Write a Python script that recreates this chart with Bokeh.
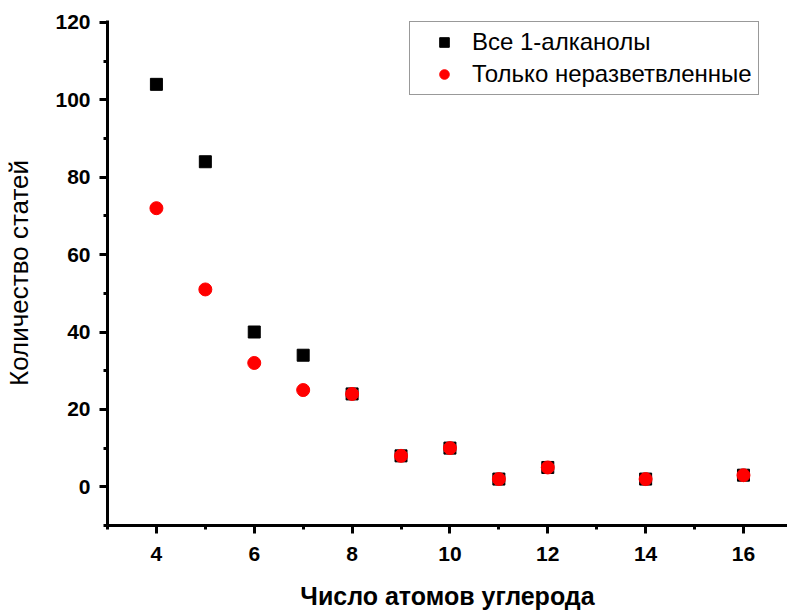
from bokeh.plotting import figure
from bokeh.models import SingleIntervalTicker, Range1d, Legend, LegendItem
from bokeh.embed import file_html
from bokeh.resources import INLINE

# Carbon atom counts and article counts per series
carbons = [4, 5, 6, 7, 8, 9, 10, 11, 12, 14, 16]
all_alkanols = [104, 84, 40, 34, 24, 8, 10, 2, 5, 2, 3]
unbranched = [72, 51, 32, 25, 24, 8, 10, 2, 5, 2, 3]

label_all = "Все 1-алканолы"
label_unbranched = "Только неразветвленные"
x_title = "Число атомов углерода"
y_title = "Количество статей"

FONT = "Liberation Sans"

p = figure(width=787, height=612, output_backend="svg", toolbar_location=None,
           x_range=Range1d(3, 16.9), y_range=Range1d(-10, 120.5),
           min_border_left=107, min_border_right=0, min_border_top=20,
           min_border_bottom=87)
p.outline_line_color = None
p.grid.visible = False
p.background_fill_color = "white"
p.border_fill_color = "white"

r_sq = p.scatter(carbons, all_alkanols, marker="square", size=12,
                 fill_color="black", line_color="black")
r_ci = p.scatter(carbons, unbranched, marker="circle", size=13,
                 fill_color="#ff0000", line_color="#ff0000")

p.xaxis.ticker = SingleIntervalTicker(interval=2, num_minor_ticks=2)
p.yaxis.ticker = SingleIntervalTicker(interval=20, num_minor_ticks=2)

for ax in (p.xaxis[0], p.yaxis[0]):
    ax.axis_line_width = 3
    ax.major_tick_line_width = 3
    ax.minor_tick_line_width = 3
    ax.major_tick_out = 8
    ax.major_tick_in = 0
    ax.minor_tick_out = 4
    ax.minor_tick_in = 0
    ax.major_label_text_font = FONT
    ax.major_label_text_font_style = "bold"
    ax.major_label_text_font_size = "21px"
    ax.major_label_text_color = "black"
    ax.axis_label_text_font = FONT
    ax.axis_label_text_color = "black"

p.xaxis.axis_label = x_title
p.xaxis.axis_label_text_font_style = "bold"
p.xaxis.axis_label_text_font_size = "25px"
p.xaxis.major_label_standoff = 13
p.xaxis.axis_label_standoff = 18

p.yaxis.axis_label = y_title
p.yaxis.axis_label_text_font_style = "normal"
p.yaxis.axis_label_text_font_size = "26px"
p.yaxis.major_label_standoff = 9
p.yaxis.axis_label_standoff = 18

legend = Legend(items=[LegendItem(label=label_all, renderers=[r_sq]),
                       LegendItem(label=label_unbranched, renderers=[r_ci])],
                location=(302, 430))
legend.label_text_font = FONT
legend.label_text_font_size = "24px"
legend.label_text_color = "black"
legend.glyph_width = 56
legend.glyph_height = 24
legend.label_height = 24
legend.label_standoff = 0
legend.spacing = 4
legend.padding = 6
legend.margin = 0
legend.border_line_color = "#333333"
legend.border_line_width = 1
legend.background_fill_alpha = 1
p.add_layout(legend, "center")

open("out.html", "w").write(file_html(p, INLINE))
